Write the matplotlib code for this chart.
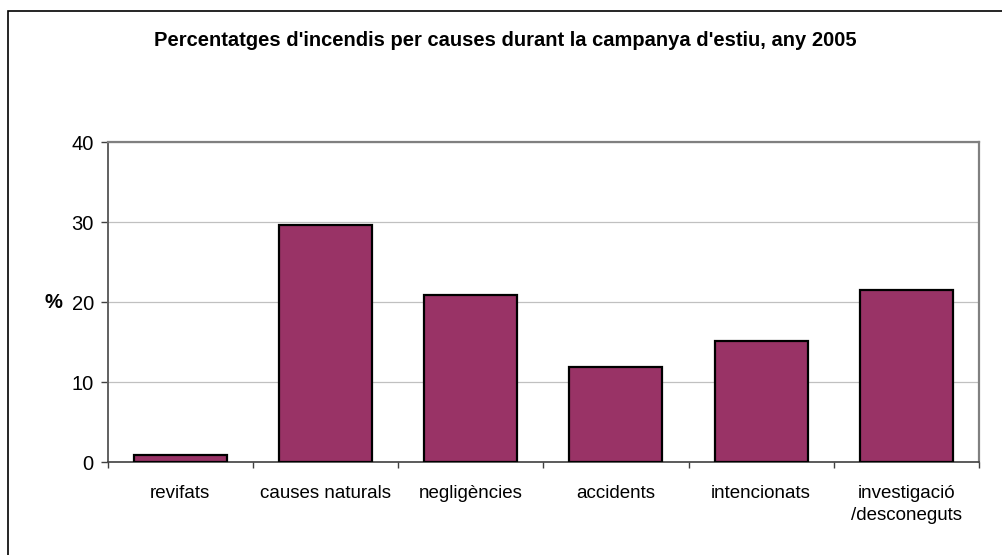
import matplotlib
matplotlib.use("Agg")
import matplotlib.pyplot as plt
from matplotlib.patches import Rectangle

plt.rcParams['font.family'] = ['Liberation Sans', 'DejaVu Sans']

categories = ["revifats", "causes naturals", "negligències", "accidents",
              "intencionats", "investigació\n/desconeguts"]
percentages = [0.9, 29.7, 20.9, 11.9, 15.2, 21.5]
y_ticks = [0, 10, 20, 30, 40]
title = "Percentatges d'incendis per causes durant la campanya d'estiu, any 2005"

fig = plt.figure(figsize=(10.02, 5.55), dpi=100)
fig.patch.set_facecolor("white")

# chart frame (runs past the right and bottom edges)
fig.add_artist(Rectangle((7.5 / 1002, -0.1), 1.2, 1 - 11 / 555 + 0.1,
                         transform=fig.transFigure, fill=False,
                         edgecolor="black", linewidth=1.2))

ax = fig.add_axes([107.7 / 1002, 1 - 462.3 / 555,
                   (979 - 107.7) / 1002, (462.3 - 142.3) / 555])

x = list(range(len(categories)))
ax.bar(x, percentages, width=0.64, color="#993366", edgecolor="black",
       linewidth=1.6, zorder=3)

ax.set_xlim(-0.5, len(categories) - 0.5)
ax.set_ylim(0, 40)
ax.set_yticks(y_ticks)
ax.set_yticklabels([str(v) for v in y_ticks], fontsize=14.5)
ax.grid(axis="y", color="#c0c0c0", linewidth=0.9, zorder=0)
ax.set_axisbelow(True)

ax.set_xticks([i - 0.5 for i in range(len(categories) + 1)])
ax.set_xticklabels([])
ax.set_xticks(x, minor=True)
ax.set_xticklabels(categories, minor=True, fontsize=13.5, linespacing=1.4,
                   va="top")
ax.tick_params(axis="x", which="major", length=4, width=1, color="#404040",
               direction="out")
ax.tick_params(axis="x", which="minor", length=0, pad=16)
ax.tick_params(axis="y", length=5, width=1, color="#404040", pad=5)

for side in ("top", "right"):
    ax.spines[side].set_color("#808080")
    ax.spines[side].set_linewidth(1.6)
ax.spines["left"].set_color("#606060")
ax.spines["left"].set_linewidth(1.4)
ax.spines["bottom"].set_color("#404040")
ax.spines["bottom"].set_linewidth(1.2)

fig.text(53 / 1002, 1 - 302 / 555, "%", ha="center", va="center",
         fontsize=14.5, fontweight="bold")

fig.text(0.504, 1 - 40 / 555, title, ha="center", va="center",
         fontsize=14.5, fontweight="bold")

fig.savefig("out.png", dpi=100)
